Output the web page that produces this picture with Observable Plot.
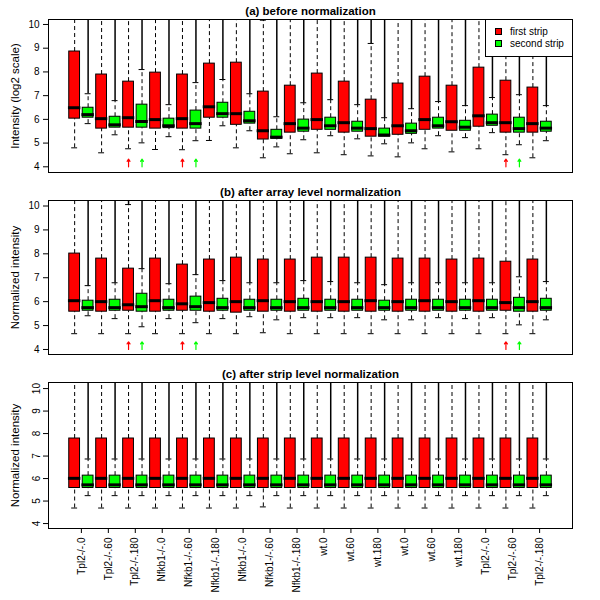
<!DOCTYPE html>
<html>
<head>
<meta charset="utf-8">
<script src="https://cdn.jsdelivr.net/npm/d3@7"></script>
<script src="https://cdn.jsdelivr.net/npm/@observablehq/plot@0.6"></script>
<style>
  body { margin: 0; background: #fff; }
  #chart { position: relative; width: 600px; height: 600px; font-family: Arial, "Liberation Sans", sans-serif; }
  #chart svg { display: block; }
  .legend { position: absolute; left: 485px; top: 19px; width: 88px; height: 38px; box-sizing: border-box; border: 1px solid #000; background: #fff; font-size: 10px; color: #000; }
  .legend .sw { position: absolute; left: 9px; width: 7px; height: 7px; box-sizing: border-box; border: 1px solid #000; }
  .legend .lb { position: absolute; left: 24px; line-height: 12px; white-space: nowrap; }
</style>
</head>
<body>
<div id="chart"></div>
<script>
const strips = ["first strip", "second strip"];
const stripColors = ["#ff0000", "#00ff00"];
const groups = [
  "Tpl2-/-.0", "Tpl2-/-.60", "Tpl2-/-.180",
  "Nfkb1-/-.0", "Nfkb1-/-.60", "Nfkb1-/-.180",
  "Nfkb1-/-.0", "Nfkb1-/-.60", "Nfkb1-/-.180",
  "wt.0", "wt.60", "wt.180",
  "wt.0", "wt.60", "wt.180",
  "Tpl2-/-.0", "Tpl2-/-.60", "Tpl2-/-.180"
];
const flagged = [3, 5, 17]; // groups with arrows in (a) and (b)
const yTicks = [4, 5, 6, 7, 8, 9, 10];

// each box: [lower whisker, Q1, median, Q3, upper whisker, highest outlier]
const beforeFirst = [
  [4.80, 6.03, 6.49, 8.86, 10.6, 10.6],
  [4.59, 5.61, 6.03, 7.89, 10.6, 10.6],
  [4.76, 5.65, 6.07, 7.59, 10.6, 10.6],
  [4.73, 5.61, 5.99, 7.97, 10.6, 10.6],
  [4.72, 5.61, 6.03, 7.89, 10.6, 10.6],
  [5.11, 6.07, 6.53, 8.35, 10.6, 10.6],
  [4.80, 5.77, 6.24, 8.39, 10.6, 10.6],
  [4.38, 5.15, 5.52, 7.17, 10.18, 10.6],
  [4.55, 5.44, 5.82, 7.42, 10.6, 10.6],
  [4.59, 5.56, 5.99, 7.93, 10.6, 10.6],
  [4.51, 5.44, 5.86, 7.59, 10.6, 10.6],
  [4.46, 5.27, 5.61, 6.83, 9.20, 10.6],
  [4.42, 5.35, 5.73, 7.51, 10.6, 10.6],
  [4.76, 5.56, 5.99, 7.80, 10.6, 10.6],
  [4.63, 5.52, 5.90, 7.42, 10.6, 10.6],
  [4.76, 5.69, 6.15, 8.18, 10.6, 10.6],
  [4.51, 5.44, 5.86, 7.63, 10.6, 10.6],
  [4.38, 5.44, 5.82, 7.34, 10.6, 10.6]
];
const beforeSecond = [
  [5.82, 6.07, 6.20, 6.49, 7.08, 10.6],
  [5.35, 5.65, 5.77, 6.11, 6.79, 10.6],
  [5.01, 5.65, 5.91, 6.62, 8.10, 10.6],
  [5.27, 5.63, 5.73, 6.03, 6.62, 10.6],
  [5.10, 5.61, 5.82, 6.37, 7.55, 10.6],
  [5.73, 6.07, 6.24, 6.70, 7.68, 10.6],
  [5.52, 5.82, 5.94, 6.32, 7.08, 10.6],
  [4.84, 5.18, 5.25, 5.56, 6.11, 10.6],
  [5.14, 5.48, 5.63, 5.99, 6.70, 10.6],
  [5.31, 5.56, 5.73, 6.07, 6.83, 10.6],
  [5.18, 5.48, 5.63, 5.90, 6.62, 10.6],
  [4.97, 5.27, 5.34, 5.61, 6.07, 10.6],
  [5.01, 5.39, 5.52, 5.82, 6.45, 10.6],
  [5.31, 5.61, 5.73, 6.07, 6.75, 10.6],
  [5.23, 5.52, 5.67, 5.94, 6.58, 10.6],
  [5.44, 5.73, 5.86, 6.20, 6.92, 10.6],
  [4.93, 5.44, 5.61, 6.07, 7.04, 10.6],
  [5.10, 5.48, 5.63, 5.90, 6.58, 10.6]
];
const arrayFirst = [
  [4.66, 5.58, 6.04, 8.01, 10.6, 10.6],
  [4.66, 5.58, 6.00, 7.80, 10.6, 10.6],
  [4.66, 5.62, 5.87, 7.38, 10.06, 10.6],
  [4.66, 5.58, 6.04, 7.80, 10.6, 10.6],
  [4.66, 5.62, 5.91, 7.55, 10.6, 10.6],
  [4.66, 5.58, 5.96, 7.76, 10.6, 10.6],
  [4.66, 5.54, 6.00, 7.84, 10.6, 10.6],
  [4.70, 5.58, 6.04, 7.76, 10.6, 10.6],
  [4.66, 5.58, 6.00, 7.76, 10.6, 10.6],
  [4.66, 5.58, 6.00, 7.84, 10.6, 10.6],
  [4.66, 5.58, 6.00, 7.84, 10.6, 10.6],
  [4.66, 5.58, 6.04, 7.84, 10.6, 10.6],
  [4.66, 5.58, 6.00, 7.80, 10.6, 10.6],
  [4.66, 5.58, 6.04, 7.80, 10.6, 10.6],
  [4.66, 5.58, 6.00, 7.76, 10.6, 10.6],
  [4.66, 5.58, 6.04, 7.80, 10.6, 10.6],
  [4.66, 5.62, 5.96, 7.67, 10.6, 10.6],
  [4.66, 5.58, 6.00, 7.76, 10.6, 10.6]
];
const arraySecond = [
  [5.41, 5.62, 5.75, 6.04, 6.67, 10.6],
  [5.29, 5.62, 5.75, 6.08, 6.79, 10.6],
  [4.95, 5.58, 5.79, 6.33, 7.38, 10.6],
  [5.29, 5.62, 5.75, 6.08, 6.75, 10.6],
  [5.12, 5.62, 5.79, 6.21, 7.13, 10.6],
  [5.29, 5.62, 5.75, 6.12, 6.88, 10.6],
  [5.37, 5.62, 5.75, 6.08, 6.79, 10.6],
  [5.24, 5.62, 5.75, 6.08, 6.79, 10.6],
  [5.33, 5.62, 5.75, 6.12, 6.88, 10.6],
  [5.33, 5.62, 5.75, 6.08, 6.84, 10.6],
  [5.33, 5.62, 5.75, 6.08, 6.79, 10.6],
  [5.24, 5.62, 5.75, 6.04, 6.71, 10.6],
  [5.24, 5.62, 5.75, 6.08, 6.79, 10.6],
  [5.33, 5.62, 5.75, 6.08, 6.79, 10.6],
  [5.29, 5.62, 5.75, 6.08, 6.79, 10.6],
  [5.33, 5.62, 5.75, 6.08, 6.79, 10.6],
  [5.03, 5.58, 5.75, 6.16, 7.04, 10.6],
  [5.24, 5.62, 5.75, 6.12, 6.84, 10.6]
];
const stripFirst = [
  [4.69, 5.58, 6.01, 7.78, 10.6, 10.6],
  [4.69, 5.58, 6.01, 7.78, 10.6, 10.6],
  [4.69, 5.58, 6.01, 7.78, 10.6, 10.6],
  [4.69, 5.58, 6.01, 7.78, 10.6, 10.6],
  [4.69, 5.58, 6.01, 7.78, 10.6, 10.6],
  [4.69, 5.58, 6.01, 7.78, 10.6, 10.6],
  [4.69, 5.58, 6.01, 7.78, 10.6, 10.6],
  [4.74, 5.58, 6.01, 7.78, 10.6, 10.6],
  [4.69, 5.58, 6.01, 7.78, 10.6, 10.6],
  [4.69, 5.58, 6.01, 7.78, 10.6, 10.6],
  [4.69, 5.58, 6.01, 7.78, 10.6, 10.6],
  [4.69, 5.58, 6.01, 7.78, 10.6, 10.6],
  [4.69, 5.58, 6.01, 7.78, 10.6, 10.6],
  [4.69, 5.58, 6.01, 7.78, 10.6, 10.6],
  [4.69, 5.58, 6.01, 7.78, 10.6, 10.6],
  [4.69, 5.58, 6.01, 7.78, 10.6, 10.6],
  [4.69, 5.58, 6.01, 7.78, 10.6, 10.6],
  [4.69, 5.58, 6.01, 7.78, 10.6, 10.6]
];
const stripSecond = [
  [5.24, 5.58, 5.72, 6.13, 6.87, 10.6],
  [5.24, 5.58, 5.72, 6.13, 6.87, 10.6],
  [5.24, 5.58, 5.72, 6.13, 6.87, 10.6],
  [5.24, 5.58, 5.72, 6.13, 6.87, 10.6],
  [5.24, 5.58, 5.72, 6.13, 6.87, 10.6],
  [5.24, 5.58, 5.72, 6.13, 6.87, 10.6],
  [5.24, 5.58, 5.72, 6.13, 6.87, 10.6],
  [5.24, 5.58, 5.72, 6.13, 6.87, 10.6],
  [5.24, 5.58, 5.72, 6.13, 6.87, 10.6],
  [5.24, 5.58, 5.72, 6.13, 6.87, 10.6],
  [5.24, 5.58, 5.72, 6.13, 6.87, 10.6],
  [5.24, 5.58, 5.72, 6.13, 6.87, 10.6],
  [5.24, 5.58, 5.72, 6.13, 6.87, 10.6],
  [5.24, 5.58, 5.72, 6.13, 6.87, 10.6],
  [5.24, 5.58, 5.72, 6.13, 6.87, 10.6],
  [5.24, 5.58, 5.72, 6.13, 6.87, 10.6],
  [5.24, 5.58, 5.72, 6.13, 6.87, 10.6],
  [5.24, 5.58, 5.72, 6.13, 6.87, 10.6]
];

// box positions 1..36: first strip odd, second strip even
function toRows(first, second) {
  return [first, second].flatMap((stats, s) =>
    stats.map(([lo, q1, med, q3, hi, max], g) => ({pos: 2 * g + s + 1, strip: strips[s], lo, q1, med, q3, hi, max})));
}

function panel(o) {
  const rows = toRows(o.first, o.second);
  const marks = [
    Plot.ruleX(rows.filter(d => d.max > d.hi), {x: "pos", y1: "hi", y2: "max", strokeWidth: 1.5, clip: true}),
    Plot.ruleX(rows, {x: "pos", y1: "q3", y2: "hi", strokeDasharray: "4,3", clip: true}),
    Plot.ruleX(rows, {x: "pos", y1: "lo", y2: "q1", strokeDasharray: "4,3", clip: true}),
    Plot.ruleY(rows, {y: "hi", x1: d => d.pos - 0.22, x2: d => d.pos + 0.22, clip: true}),
    Plot.ruleY(rows, {y: "lo", x1: d => d.pos - 0.22, x2: d => d.pos + 0.22, clip: true}),
    Plot.rect(rows, {x1: d => d.pos - 0.4, x2: d => d.pos + 0.4, y1: "q1", y2: "q3", fill: "strip", stroke: "black"}),
    Plot.ruleY(rows, {y: "med", x1: d => d.pos - 0.46, x2: d => d.pos + 0.46, strokeWidth: 3}),
    Plot.frame({stroke: "black"}),
    Plot.axisY({ticks: yTicks, tickFormat: d => String(d), tickSize: 5, tickPadding: 4, fontSize: 10, label: null, tickRotate: o.rotateY ? -90 : 0}),
    Plot.text([o.label], {frameAnchor: "left", textAnchor: "middle", lineAnchor: "middle", rotate: -90, dx: -33, fontSize: 11.5}),
    Plot.text([o.title], {frameAnchor: "top", lineAnchor: "middle", dy: -8, fontSize: 11.5, fontWeight: "bold"})
  ];
  if (o.arrows) {
    const marked = flagged.flatMap(g => [0, 1].map(s => ({pos: 2 * (g - 1) + s + 1, strip: strips[s]})));
    marks.push(Plot.arrow(marked, {x: "pos", y1: 4.0, y2: 4.32, stroke: "strip", strokeWidth: 1.2, headLength: 5, headAngle: 70}));
  }
  if (o.xLabels) {
    marks.push(Plot.axisX({
      ticks: groups.map((_, g) => 2 * g + 1.5),
      tickFormat: d => groups[(d - 1.5) / 2],
      tickRotate: -90, tickSize: 5, tickPadding: 4, fontSize: 10, label: null
    }));
  }
  return Plot.plot({
    width: 600,
    height: o.height,
    marginLeft: 48,
    marginRight: 28,
    marginTop: o.marginTop,
    marginBottom: o.marginBottom,
    x: {domain: [-0.94, 37.94], axis: o.xLabels ? undefined : null},
    y: {domain: o.yDomain, label: null},
    color: {domain: strips, range: stripColors},
    style: {fontFamily: "Arial, 'Liberation Sans', sans-serif", color: "black", background: "white", overflow: "visible"},
    marks
  });
}

const chart = d3.select("#chart");
chart.append(() => panel({
  first: beforeFirst, second: beforeSecond,
  title: "(a) before normalization", label: "Intensity (log2 scale)",
  yDomain: [3.76, 10.21], height: 181, marginTop: 19, marginBottom: 9, arrows: true
}));
chart.append(() => panel({
  first: arrayFirst, second: arraySecond,
  title: "(b) after array level normalization", label: "Normalized intensity",
  yDomain: [3.79, 10.23], height: 181, marginTop: 19, marginBottom: 8, arrows: true
}));
chart.append(() => panel({
  first: stripFirst, second: stripSecond,
  title: "(c) after strip level normalization", label: "Normalized intensity",
  yDomain: [3.78, 10.27], height: 238, marginTop: 20, marginBottom: 72, xLabels: true, rotateY: true
}));

const legend = chart.append("div").attr("class", "legend");
strips.forEach((name, i) => {
  legend.append("div").attr("class", "sw").style("top", (8 + i * 12) + "px").style("background", stripColors[i]);
  legend.append("div").attr("class", "lb").style("top", (6 + i * 12) + "px").text(name);
});
</script>
</body>
</html>
